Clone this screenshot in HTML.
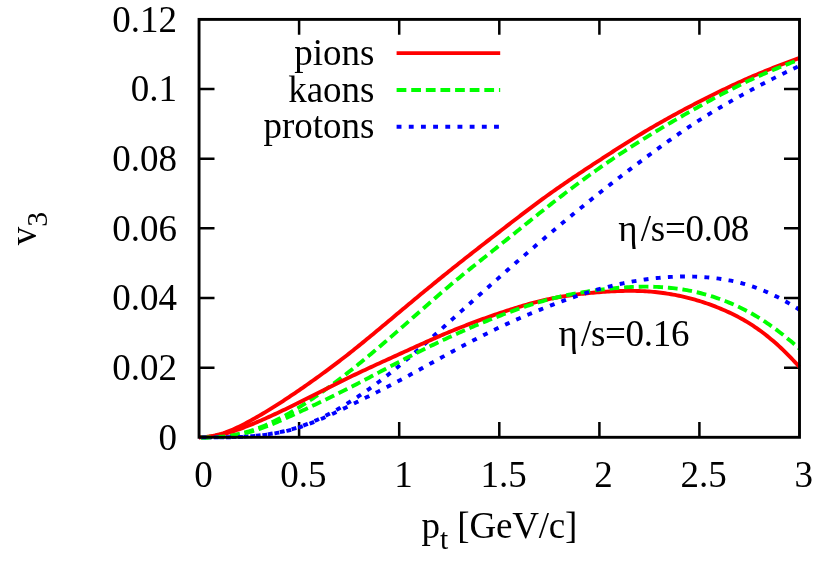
<!DOCTYPE html>
<html>
<head>
<meta charset="utf-8">
<title>v3 vs pt</title>
<style>
html,body{margin:0;padding:0;background:#fff;}
body{width:830px;height:567px;overflow:hidden;}
svg{display:block;will-change:transform;}
text{font-family:"Liberation Serif",serif;fill:#000;}
</style>
</head>
<body>
<svg width="830" height="567" viewBox="0 0 830 567">
<rect x="0" y="0" width="830" height="567" fill="#fff"/>
<!-- TICKS (beneath curves) -->
<g stroke="#000" stroke-width="2.5" fill="none" stroke-linecap="butt">
<path d="M199 367.65H214.5M199 298H214.5M199 228.35H214.5M199 158.7H214.5M199 89.05H214.5"/>
<path d="M799.5 367.65H784M799.5 298H784M799.5 228.35H784M799.5 158.7H784M799.5 89.05H784"/>
<path d="M299.1 437.3V421.9M399.2 437.3V421.9M499.3 437.3V421.9M599.4 437.3V421.9M699.4 437.3V421.9"/>
<path d="M299.1 19.4V34.8M399.2 19.4V34.8M499.3 19.4V34.8M599.4 19.4V34.8M699.4 19.4V34.8"/>
</g>
<!-- CURVES -->
<g id="curves" fill="none" stroke-width="3.9">
<path stroke="#ff0000" stroke-dashoffset="0" d="M199.0 437.21 L201.0 437.18 L203.0 437.10 L205.0 436.96 L207.0 436.76 L209.0 436.51 L211.0 436.21 L213.0 435.85 L215.0 435.44 L217.0 434.97 L219.0 434.46 L221.0 433.89 L223.0 433.27 L225.0 432.60 L227.0 431.88 L229.0 431.11 L231.0 430.30 L233.0 429.45 L235.0 428.56 L237.0 427.64 L239.0 426.68 L241.0 425.69 L243.0 424.68 L245.0 423.64 L247.0 422.58 L249.0 421.50 L251.0 420.41 L253.0 419.29 L255.0 418.17 L257.0 417.03 L259.0 415.87 L261.0 414.70 L263.0 413.52 L265.0 412.32 L267.0 411.11 L269.0 409.89 L271.0 408.65 L273.0 407.41 L275.0 406.15 L277.0 404.88 L279.0 403.60 L281.0 402.31 L283.0 401.01 L285.0 399.70 L287.0 398.38 L289.0 397.05 L291.0 395.71 L293.0 394.36 L295.0 393.01 L297.0 391.65 L299.0 390.28 L301.0 388.90 L303.0 387.52 L305.0 386.13 L307.0 384.74 L309.0 383.33 L311.0 381.92 L313.0 380.51 L315.0 379.08 L317.0 377.65 L319.0 376.21 L321.0 374.76 L323.0 373.30 L325.0 371.84 L327.0 370.36 L329.0 368.88 L331.0 367.39 L333.0 365.90 L335.0 364.39 L337.0 362.88 L339.0 361.35 L341.0 359.82 L343.0 358.28 L345.0 356.73 L347.0 355.17 L349.0 353.60 L351.0 352.02 L353.0 350.43 L355.0 348.83 L357.0 347.23 L359.0 345.62 L361.0 344.00 L363.0 342.37 L365.0 340.74 L367.0 339.10 L369.0 337.45 L371.0 335.80 L373.0 334.15 L375.0 332.49 L377.0 330.83 L379.0 329.16 L381.0 327.50 L383.0 325.83 L385.0 324.15 L387.0 322.48 L389.0 320.80 L391.0 319.13 L393.0 317.45 L395.0 315.77 L397.0 314.10 L399.0 312.42 L401.0 310.75 L403.0 309.08 L405.0 307.41 L407.0 305.74 L409.0 304.07 L411.0 302.41 L413.0 300.74 L415.0 299.08 L417.0 297.42 L419.0 295.77 L421.0 294.12 L423.0 292.47 L425.0 290.82 L427.0 289.17 L429.0 287.53 L431.0 285.89 L433.0 284.26 L435.0 282.63 L437.0 281.00 L439.0 279.37 L441.0 277.75 L443.0 276.13 L445.0 274.52 L447.0 272.91 L449.0 271.30 L451.0 269.70 L453.0 268.10 L455.0 266.51 L457.0 264.92 L459.0 263.33 L461.0 261.75 L463.0 260.17 L465.0 258.59 L467.0 257.02 L469.0 255.45 L471.0 253.88 L473.0 252.32 L475.0 250.75 L477.0 249.19 L479.0 247.63 L481.0 246.07 L483.0 244.52 L485.0 242.96 L487.0 241.41 L489.0 239.85 L491.0 238.30 L493.0 236.75 L495.0 235.20 L497.0 233.65 L499.0 232.10 L501.0 230.55 L503.0 229.01 L505.0 227.46 L507.0 225.91 L509.0 224.37 L511.0 222.82 L513.0 221.28 L515.0 219.74 L517.0 218.21 L519.0 216.68 L521.0 215.15 L523.0 213.63 L525.0 212.11 L527.0 210.59 L529.0 209.08 L531.0 207.58 L533.0 206.08 L535.0 204.59 L537.0 203.10 L539.0 201.63 L541.0 200.16 L543.0 198.69 L545.0 197.24 L547.0 195.79 L549.0 194.35 L551.0 192.93 L553.0 191.51 L555.0 190.09 L557.0 188.69 L559.0 187.30 L561.0 185.91 L563.0 184.53 L565.0 183.16 L567.0 181.79 L569.0 180.43 L571.0 179.08 L573.0 177.73 L575.0 176.39 L577.0 175.05 L579.0 173.71 L581.0 172.39 L583.0 171.06 L585.0 169.74 L587.0 168.42 L589.0 167.11 L591.0 165.80 L593.0 164.49 L595.0 163.18 L597.0 161.88 L599.0 160.58 L601.0 159.28 L603.0 157.98 L605.0 156.68 L607.0 155.38 L609.0 154.09 L611.0 152.80 L613.0 151.51 L615.0 150.23 L617.0 148.95 L619.0 147.67 L621.0 146.40 L623.0 145.13 L625.0 143.86 L627.0 142.61 L629.0 141.35 L631.0 140.10 L633.0 138.86 L635.0 137.63 L637.0 136.40 L639.0 135.17 L641.0 133.96 L643.0 132.75 L645.0 131.54 L647.0 130.35 L649.0 129.16 L651.0 127.99 L653.0 126.82 L655.0 125.65 L657.0 124.50 L659.0 123.35 L661.0 122.22 L663.0 121.08 L665.0 119.96 L667.0 118.84 L669.0 117.73 L671.0 116.63 L673.0 115.53 L675.0 114.44 L677.0 113.36 L679.0 112.28 L681.0 111.20 L683.0 110.14 L685.0 109.08 L687.0 108.02 L689.0 106.97 L691.0 105.93 L693.0 104.89 L695.0 103.85 L697.0 102.82 L699.0 101.79 L701.0 100.77 L703.0 99.75 L705.0 98.74 L707.0 97.73 L709.0 96.73 L711.0 95.73 L713.0 94.74 L715.0 93.75 L717.0 92.77 L719.0 91.79 L721.0 90.82 L723.0 89.85 L725.0 88.89 L727.0 87.94 L729.0 86.99 L731.0 86.05 L733.0 85.12 L735.0 84.19 L737.0 83.27 L739.0 82.35 L741.0 81.44 L743.0 80.54 L745.0 79.65 L747.0 78.76 L749.0 77.88 L751.0 77.01 L753.0 76.14 L755.0 75.29 L757.0 74.44 L759.0 73.60 L761.0 72.76 L763.0 71.93 L765.0 71.11 L767.0 70.30 L769.0 69.49 L771.0 68.69 L773.0 67.89 L775.0 67.10 L777.0 66.32 L779.0 65.55 L781.0 64.78 L783.0 64.01 L785.0 63.26 L787.0 62.51 L789.0 61.76 L791.0 61.02 L793.0 60.29 L795.0 59.56 L797.0 58.84 L799.0 58.12 L799.5 57.94"/>
<path stroke="#00ff00" stroke-dasharray="9.75 4.87" stroke-dashoffset="-2" d="M199.0 437.54 L201.0 437.54 L203.0 437.52 L205.0 437.49 L207.0 437.45 L209.0 437.40 L211.0 437.32 L213.0 437.23 L215.0 437.12 L217.0 436.99 L219.0 436.84 L221.0 436.66 L223.0 436.46 L225.0 436.24 L227.0 435.99 L229.0 435.71 L231.0 435.40 L233.0 435.07 L235.0 434.71 L237.0 434.31 L239.0 433.89 L241.0 433.43 L243.0 432.95 L245.0 432.43 L247.0 431.88 L249.0 431.29 L251.0 430.68 L253.0 430.02 L255.0 429.34 L257.0 428.62 L259.0 427.87 L261.0 427.09 L263.0 426.28 L265.0 425.44 L267.0 424.57 L269.0 423.68 L271.0 422.76 L273.0 421.81 L275.0 420.83 L277.0 419.83 L279.0 418.81 L281.0 417.76 L283.0 416.68 L285.0 415.59 L287.0 414.47 L289.0 413.34 L291.0 412.18 L293.0 411.00 L295.0 409.81 L297.0 408.59 L299.0 407.36 L301.0 406.11 L303.0 404.85 L305.0 403.57 L307.0 402.27 L309.0 400.96 L311.0 399.63 L313.0 398.28 L315.0 396.93 L317.0 395.55 L319.0 394.17 L321.0 392.76 L323.0 391.35 L325.0 389.92 L327.0 388.48 L329.0 387.02 L331.0 385.55 L333.0 384.07 L335.0 382.58 L337.0 381.08 L339.0 379.56 L341.0 378.03 L343.0 376.49 L345.0 374.94 L347.0 373.38 L349.0 371.81 L351.0 370.23 L353.0 368.64 L355.0 367.04 L357.0 365.43 L359.0 363.81 L361.0 362.18 L363.0 360.55 L365.0 358.90 L367.0 357.25 L369.0 355.59 L371.0 353.92 L373.0 352.24 L375.0 350.56 L377.0 348.87 L379.0 347.17 L381.0 345.47 L383.0 343.76 L385.0 342.04 L387.0 340.32 L389.0 338.59 L391.0 336.86 L393.0 335.12 L395.0 333.38 L397.0 331.63 L399.0 329.88 L401.0 328.13 L403.0 326.37 L405.0 324.61 L407.0 322.84 L409.0 321.08 L411.0 319.31 L413.0 317.54 L415.0 315.77 L417.0 314.00 L419.0 312.24 L421.0 310.47 L423.0 308.70 L425.0 306.94 L427.0 305.18 L429.0 303.43 L431.0 301.68 L433.0 299.93 L435.0 298.19 L437.0 296.46 L439.0 294.73 L441.0 293.00 L443.0 291.29 L445.0 289.58 L447.0 287.89 L449.0 286.20 L451.0 284.52 L453.0 282.85 L455.0 281.18 L457.0 279.53 L459.0 277.88 L461.0 276.25 L463.0 274.61 L465.0 272.99 L467.0 271.37 L469.0 269.75 L471.0 268.14 L473.0 266.53 L475.0 264.93 L477.0 263.33 L479.0 261.73 L481.0 260.14 L483.0 258.54 L485.0 256.95 L487.0 255.36 L489.0 253.76 L491.0 252.17 L493.0 250.58 L495.0 248.98 L497.0 247.38 L499.0 245.78 L501.0 244.18 L503.0 242.58 L505.0 240.97 L507.0 239.36 L509.0 237.75 L511.0 236.13 L513.0 234.52 L515.0 232.91 L517.0 231.29 L519.0 229.68 L521.0 228.06 L523.0 226.45 L525.0 224.84 L527.0 223.22 L529.0 221.61 L531.0 220.01 L533.0 218.40 L535.0 216.80 L537.0 215.20 L539.0 213.60 L541.0 212.01 L543.0 210.42 L545.0 208.84 L547.0 207.26 L549.0 205.69 L551.0 204.12 L553.0 202.55 L555.0 201.00 L557.0 199.45 L559.0 197.90 L561.0 196.36 L563.0 194.83 L565.0 193.30 L567.0 191.78 L569.0 190.26 L571.0 188.75 L573.0 187.25 L575.0 185.75 L577.0 184.27 L579.0 182.78 L581.0 181.31 L583.0 179.84 L585.0 178.38 L587.0 176.93 L589.0 175.48 L591.0 174.05 L593.0 172.61 L595.0 171.19 L597.0 169.78 L599.0 168.37 L601.0 166.97 L603.0 165.58 L605.0 164.20 L607.0 162.82 L609.0 161.46 L611.0 160.10 L613.0 158.74 L615.0 157.40 L617.0 156.06 L619.0 154.73 L621.0 153.41 L623.0 152.09 L625.0 150.79 L627.0 149.48 L629.0 148.19 L631.0 146.90 L633.0 145.62 L635.0 144.35 L637.0 143.08 L639.0 141.82 L641.0 140.57 L643.0 139.32 L645.0 138.08 L647.0 136.84 L649.0 135.61 L651.0 134.39 L653.0 133.17 L655.0 131.96 L657.0 130.75 L659.0 129.55 L661.0 128.36 L663.0 127.17 L665.0 125.98 L667.0 124.80 L669.0 123.63 L671.0 122.46 L673.0 121.30 L675.0 120.14 L677.0 118.98 L679.0 117.83 L681.0 116.69 L683.0 115.55 L685.0 114.41 L687.0 113.28 L689.0 112.15 L691.0 111.02 L693.0 109.90 L695.0 108.78 L697.0 107.67 L699.0 106.56 L701.0 105.45 L703.0 104.34 L705.0 103.24 L707.0 102.15 L709.0 101.06 L711.0 99.97 L713.0 98.89 L715.0 97.81 L717.0 96.74 L719.0 95.67 L721.0 94.62 L723.0 93.56 L725.0 92.52 L727.0 91.48 L729.0 90.44 L731.0 89.42 L733.0 88.40 L735.0 87.39 L737.0 86.39 L739.0 85.40 L741.0 84.42 L743.0 83.45 L745.0 82.48 L747.0 81.53 L749.0 80.58 L751.0 79.65 L753.0 78.72 L755.0 77.81 L757.0 76.90 L759.0 76.01 L761.0 75.12 L763.0 74.24 L765.0 73.37 L767.0 72.51 L769.0 71.66 L771.0 70.82 L773.0 69.98 L775.0 69.16 L777.0 68.34 L779.0 67.52 L781.0 66.72 L783.0 65.92 L785.0 65.13 L787.0 64.34 L789.0 63.56 L791.0 62.79 L793.0 62.02 L795.0 61.26 L797.0 60.50 L799.0 59.75 L799.5 59.56"/>
<path stroke="#0000ff" stroke-dasharray="4.87 7.31" stroke-dashoffset="4.1" d="M199.0 437.40 L201.0 437.40 L203.0 437.40 L205.0 437.40 L207.0 437.40 L209.0 437.40 L211.0 437.40 L213.0 437.39 L215.0 437.38 L217.0 437.37 L219.0 437.35 L221.0 437.33 L223.0 437.30 L225.0 437.27 L227.0 437.23 L229.0 437.19 L231.0 437.14 L233.0 437.08 L235.0 437.01 L237.0 436.94 L239.0 436.85 L241.0 436.76 L243.0 436.65 L245.0 436.54 L247.0 436.41 L249.0 436.27 L251.0 436.12 L253.0 435.96 L255.0 435.78 L257.0 435.59 L259.0 435.39 L261.0 435.16 L263.0 434.93 L265.0 434.67 L267.0 434.40 L269.0 434.11 L271.0 433.80 L273.0 433.47 L275.0 433.12 L277.0 432.75 L279.0 432.35 L281.0 431.94 L283.0 431.50 L285.0 431.03 L287.0 430.54 L289.0 430.03 L291.0 429.49 L293.0 428.92 L295.0 428.33 L297.0 427.71 L299.0 427.06 L301.0 426.37 L303.0 425.67 L305.0 424.93 L307.0 424.16 L309.0 423.37 L311.0 422.54 L313.0 421.70 L315.0 420.82 L317.0 419.92 L319.0 419.00 L321.0 418.05 L323.0 417.07 L325.0 416.08 L327.0 415.05 L329.0 414.01 L331.0 412.94 L333.0 411.86 L335.0 410.75 L337.0 409.62 L339.0 408.47 L341.0 407.30 L343.0 406.11 L345.0 404.90 L347.0 403.67 L349.0 402.43 L351.0 401.17 L353.0 399.89 L355.0 398.59 L357.0 397.28 L359.0 395.95 L361.0 394.60 L363.0 393.24 L365.0 391.86 L367.0 390.46 L369.0 389.05 L371.0 387.62 L373.0 386.18 L375.0 384.72 L377.0 383.24 L379.0 381.75 L381.0 380.24 L383.0 378.72 L385.0 377.19 L387.0 375.64 L389.0 374.07 L391.0 372.49 L393.0 370.90 L395.0 369.29 L397.0 367.67 L399.0 366.03 L401.0 364.38 L403.0 362.72 L405.0 361.05 L407.0 359.36 L409.0 357.66 L411.0 355.95 L413.0 354.23 L415.0 352.50 L417.0 350.76 L419.0 349.02 L421.0 347.26 L423.0 345.50 L425.0 343.73 L427.0 341.96 L429.0 340.18 L431.0 338.39 L433.0 336.60 L435.0 334.81 L437.0 333.01 L439.0 331.22 L441.0 329.42 L443.0 327.61 L445.0 325.81 L447.0 324.01 L449.0 322.21 L451.0 320.41 L453.0 318.61 L455.0 316.81 L457.0 315.01 L459.0 313.21 L461.0 311.42 L463.0 309.62 L465.0 307.83 L467.0 306.04 L469.0 304.25 L471.0 302.46 L473.0 300.67 L475.0 298.89 L477.0 297.10 L479.0 295.32 L481.0 293.54 L483.0 291.76 L485.0 289.98 L487.0 288.20 L489.0 286.43 L491.0 284.66 L493.0 282.89 L495.0 281.12 L497.0 279.35 L499.0 277.59 L501.0 275.83 L503.0 274.06 L505.0 272.31 L507.0 270.55 L509.0 268.80 L511.0 267.04 L513.0 265.30 L515.0 263.55 L517.0 261.81 L519.0 260.06 L521.0 258.33 L523.0 256.59 L525.0 254.86 L527.0 253.13 L529.0 251.40 L531.0 249.68 L533.0 247.95 L535.0 246.24 L537.0 244.52 L539.0 242.81 L541.0 241.10 L543.0 239.40 L545.0 237.70 L547.0 236.00 L549.0 234.31 L551.0 232.62 L553.0 230.94 L555.0 229.25 L557.0 227.58 L559.0 225.90 L561.0 224.23 L563.0 222.57 L565.0 220.91 L567.0 219.25 L569.0 217.60 L571.0 215.95 L573.0 214.30 L575.0 212.66 L577.0 211.03 L579.0 209.39 L581.0 207.77 L583.0 206.14 L585.0 204.53 L587.0 202.91 L589.0 201.30 L591.0 199.70 L593.0 198.10 L595.0 196.50 L597.0 194.91 L599.0 193.33 L601.0 191.75 L603.0 190.17 L605.0 188.60 L607.0 187.03 L609.0 185.47 L611.0 183.91 L613.0 182.36 L615.0 180.81 L617.0 179.27 L619.0 177.73 L621.0 176.20 L623.0 174.67 L625.0 173.14 L627.0 171.62 L629.0 170.11 L631.0 168.60 L633.0 167.09 L635.0 165.58 L637.0 164.09 L639.0 162.59 L641.0 161.10 L643.0 159.61 L645.0 158.13 L647.0 156.65 L649.0 155.18 L651.0 153.71 L653.0 152.25 L655.0 150.79 L657.0 149.33 L659.0 147.88 L661.0 146.43 L663.0 144.99 L665.0 143.56 L667.0 142.13 L669.0 140.71 L671.0 139.30 L673.0 137.90 L675.0 136.50 L677.0 135.11 L679.0 133.72 L681.0 132.35 L683.0 130.98 L685.0 129.63 L687.0 128.28 L689.0 126.94 L691.0 125.62 L693.0 124.30 L695.0 122.99 L697.0 121.69 L699.0 120.41 L701.0 119.13 L703.0 117.87 L705.0 116.62 L707.0 115.37 L709.0 114.14 L711.0 112.92 L713.0 111.71 L715.0 110.50 L717.0 109.31 L719.0 108.12 L721.0 106.95 L723.0 105.78 L725.0 104.62 L727.0 103.46 L729.0 102.32 L731.0 101.18 L733.0 100.05 L735.0 98.93 L737.0 97.81 L739.0 96.70 L741.0 95.59 L743.0 94.49 L745.0 93.40 L747.0 92.31 L749.0 91.22 L751.0 90.14 L753.0 89.07 L755.0 88.00 L757.0 86.93 L759.0 85.87 L761.0 84.82 L763.0 83.77 L765.0 82.73 L767.0 81.70 L769.0 80.67 L771.0 79.64 L773.0 78.63 L775.0 77.62 L777.0 76.62 L779.0 75.63 L781.0 74.64 L783.0 73.66 L785.0 72.69 L787.0 71.73 L789.0 70.78 L791.0 69.84 L793.0 68.90 L795.0 67.97 L797.0 67.06 L799.0 66.15 L799.5 65.93"/>
<path stroke="#ff0000" stroke-dashoffset="0" d="M199.0 437.18 L201.0 437.15 L203.0 437.09 L205.0 436.98 L207.0 436.83 L209.0 436.64 L211.0 436.40 L213.0 436.13 L215.0 435.82 L217.0 435.47 L219.0 435.07 L221.0 434.65 L223.0 434.18 L225.0 433.68 L227.0 433.14 L229.0 432.57 L231.0 431.97 L233.0 431.34 L235.0 430.69 L237.0 430.00 L239.0 429.30 L241.0 428.57 L243.0 427.82 L245.0 427.05 L247.0 426.27 L249.0 425.47 L251.0 424.66 L253.0 423.84 L255.0 423.01 L257.0 422.17 L259.0 421.31 L261.0 420.45 L263.0 419.57 L265.0 418.69 L267.0 417.79 L269.0 416.89 L271.0 415.98 L273.0 415.06 L275.0 414.13 L277.0 413.19 L279.0 412.25 L281.0 411.30 L283.0 410.35 L285.0 409.38 L287.0 408.42 L289.0 407.44 L291.0 406.47 L293.0 405.48 L295.0 404.50 L297.0 403.51 L299.0 402.51 L301.0 401.51 L303.0 400.51 L305.0 399.51 L307.0 398.51 L309.0 397.50 L311.0 396.49 L313.0 395.48 L315.0 394.47 L317.0 393.46 L319.0 392.45 L321.0 391.44 L323.0 390.43 L325.0 389.43 L327.0 388.42 L329.0 387.41 L331.0 386.41 L333.0 385.41 L335.0 384.41 L337.0 383.41 L339.0 382.42 L341.0 381.43 L343.0 380.44 L345.0 379.46 L347.0 378.48 L349.0 377.51 L351.0 376.54 L353.0 375.58 L355.0 374.62 L357.0 373.67 L359.0 372.72 L361.0 371.78 L363.0 370.84 L365.0 369.90 L367.0 368.97 L369.0 368.04 L371.0 367.11 L373.0 366.19 L375.0 365.26 L377.0 364.34 L379.0 363.42 L381.0 362.51 L383.0 361.59 L385.0 360.68 L387.0 359.77 L389.0 358.86 L391.0 357.95 L393.0 357.03 L395.0 356.12 L397.0 355.21 L399.0 354.30 L401.0 353.39 L403.0 352.48 L405.0 351.57 L407.0 350.66 L409.0 349.75 L411.0 348.84 L413.0 347.93 L415.0 347.02 L417.0 346.12 L419.0 345.22 L421.0 344.32 L423.0 343.42 L425.0 342.52 L427.0 341.63 L429.0 340.74 L431.0 339.86 L433.0 338.98 L435.0 338.11 L437.0 337.24 L439.0 336.37 L441.0 335.51 L443.0 334.66 L445.0 333.81 L447.0 332.97 L449.0 332.13 L451.0 331.30 L453.0 330.48 L455.0 329.67 L457.0 328.86 L459.0 328.06 L461.0 327.26 L463.0 326.48 L465.0 325.69 L467.0 324.92 L469.0 324.15 L471.0 323.39 L473.0 322.63 L475.0 321.88 L477.0 321.14 L479.0 320.40 L481.0 319.67 L483.0 318.94 L485.0 318.22 L487.0 317.51 L489.0 316.80 L491.0 316.09 L493.0 315.40 L495.0 314.70 L497.0 314.02 L499.0 313.34 L501.0 312.66 L503.0 311.99 L505.0 311.33 L507.0 310.67 L509.0 310.02 L511.0 309.38 L513.0 308.75 L515.0 308.12 L517.0 307.50 L519.0 306.89 L521.0 306.29 L523.0 305.70 L525.0 305.12 L527.0 304.55 L529.0 303.99 L531.0 303.44 L533.0 302.90 L535.0 302.38 L537.0 301.87 L539.0 301.36 L541.0 300.88 L543.0 300.40 L545.0 299.94 L547.0 299.49 L549.0 299.06 L551.0 298.64 L553.0 298.24 L555.0 297.85 L557.0 297.48 L559.0 297.12 L561.0 296.77 L563.0 296.43 L565.0 296.11 L567.0 295.80 L569.0 295.50 L571.0 295.21 L573.0 294.93 L575.0 294.67 L577.0 294.41 L579.0 294.17 L581.0 293.93 L583.0 293.71 L585.0 293.49 L587.0 293.29 L589.0 293.09 L591.0 292.90 L593.0 292.72 L595.0 292.54 L597.0 292.38 L599.0 292.22 L601.0 292.06 L603.0 291.92 L605.0 291.78 L607.0 291.65 L609.0 291.53 L611.0 291.41 L613.0 291.31 L615.0 291.22 L617.0 291.13 L619.0 291.06 L621.0 291.00 L623.0 290.95 L625.0 290.91 L627.0 290.88 L629.0 290.87 L631.0 290.87 L633.0 290.88 L635.0 290.91 L637.0 290.95 L639.0 291.01 L641.0 291.08 L643.0 291.16 L645.0 291.27 L647.0 291.39 L649.0 291.53 L651.0 291.68 L653.0 291.85 L655.0 292.04 L657.0 292.25 L659.0 292.48 L661.0 292.72 L663.0 292.98 L665.0 293.26 L667.0 293.56 L669.0 293.88 L671.0 294.21 L673.0 294.57 L675.0 294.94 L677.0 295.33 L679.0 295.74 L681.0 296.17 L683.0 296.61 L685.0 297.08 L687.0 297.57 L689.0 298.07 L691.0 298.60 L693.0 299.14 L695.0 299.70 L697.0 300.29 L699.0 300.89 L701.0 301.51 L703.0 302.16 L705.0 302.82 L707.0 303.50 L709.0 304.21 L711.0 304.93 L713.0 305.68 L715.0 306.44 L717.0 307.23 L719.0 308.03 L721.0 308.86 L723.0 309.71 L725.0 310.58 L727.0 311.48 L729.0 312.39 L731.0 313.33 L733.0 314.30 L735.0 315.29 L737.0 316.32 L739.0 317.37 L741.0 318.45 L743.0 319.57 L745.0 320.72 L747.0 321.91 L749.0 323.13 L751.0 324.39 L753.0 325.69 L755.0 327.03 L757.0 328.40 L759.0 329.82 L761.0 331.27 L763.0 332.76 L765.0 334.30 L767.0 335.87 L769.0 337.48 L771.0 339.13 L773.0 340.82 L775.0 342.55 L777.0 344.32 L779.0 346.14 L781.0 347.99 L783.0 349.88 L785.0 351.82 L787.0 353.80 L789.0 355.81 L791.0 357.88 L793.0 359.98 L795.0 362.12 L797.0 364.31 L799.0 366.54 L799.5 367.11"/>
<path stroke="#00ff00" stroke-dasharray="9.75 4.87" stroke-dashoffset="-2" d="M199.0 437.54 L201.0 437.54 L203.0 437.52 L205.0 437.50 L207.0 437.47 L209.0 437.42 L211.0 437.36 L213.0 437.29 L215.0 437.20 L217.0 437.09 L219.0 436.96 L221.0 436.81 L223.0 436.64 L225.0 436.45 L227.0 436.23 L229.0 435.99 L231.0 435.73 L233.0 435.44 L235.0 435.12 L237.0 434.78 L239.0 434.41 L241.0 434.01 L243.0 433.58 L245.0 433.12 L247.0 432.64 L249.0 432.12 L251.0 431.57 L253.0 431.00 L255.0 430.39 L257.0 429.76 L259.0 429.10 L261.0 428.41 L263.0 427.70 L265.0 426.97 L267.0 426.22 L269.0 425.44 L271.0 424.65 L273.0 423.84 L275.0 423.01 L277.0 422.17 L279.0 421.31 L281.0 420.44 L283.0 419.56 L285.0 418.66 L287.0 417.76 L289.0 416.85 L291.0 415.93 L293.0 415.01 L295.0 414.08 L297.0 413.14 L299.0 412.21 L301.0 411.27 L303.0 410.33 L305.0 409.39 L307.0 408.45 L309.0 407.51 L311.0 406.56 L313.0 405.61 L315.0 404.67 L317.0 403.71 L319.0 402.76 L321.0 401.80 L323.0 400.84 L325.0 399.88 L327.0 398.91 L329.0 397.94 L331.0 396.96 L333.0 395.99 L335.0 395.00 L337.0 394.02 L339.0 393.03 L341.0 392.03 L343.0 391.04 L345.0 390.03 L347.0 389.02 L349.0 388.01 L351.0 386.99 L353.0 385.97 L355.0 384.94 L357.0 383.91 L359.0 382.87 L361.0 381.83 L363.0 380.79 L365.0 379.74 L367.0 378.70 L369.0 377.65 L371.0 376.60 L373.0 375.54 L375.0 374.49 L377.0 373.44 L379.0 372.38 L381.0 371.33 L383.0 370.27 L385.0 369.22 L387.0 368.17 L389.0 367.12 L391.0 366.07 L393.0 365.02 L395.0 363.98 L397.0 362.94 L399.0 361.90 L401.0 360.87 L403.0 359.84 L405.0 358.81 L407.0 357.79 L409.0 356.77 L411.0 355.75 L413.0 354.74 L415.0 353.73 L417.0 352.73 L419.0 351.73 L421.0 350.74 L423.0 349.75 L425.0 348.76 L427.0 347.78 L429.0 346.81 L431.0 345.83 L433.0 344.87 L435.0 343.91 L437.0 342.95 L439.0 342.00 L441.0 341.05 L443.0 340.11 L445.0 339.18 L447.0 338.25 L449.0 337.32 L451.0 336.41 L453.0 335.49 L455.0 334.59 L457.0 333.68 L459.0 332.79 L461.0 331.90 L463.0 331.01 L465.0 330.13 L467.0 329.26 L469.0 328.39 L471.0 327.53 L473.0 326.68 L475.0 325.83 L477.0 324.98 L479.0 324.15 L481.0 323.31 L483.0 322.49 L485.0 321.67 L487.0 320.85 L489.0 320.04 L491.0 319.24 L493.0 318.44 L495.0 317.65 L497.0 316.87 L499.0 316.09 L501.0 315.32 L503.0 314.55 L505.0 313.79 L507.0 313.04 L509.0 312.30 L511.0 311.56 L513.0 310.83 L515.0 310.11 L517.0 309.40 L519.0 308.69 L521.0 308.00 L523.0 307.31 L525.0 306.64 L527.0 305.97 L529.0 305.32 L531.0 304.67 L533.0 304.04 L535.0 303.42 L537.0 302.81 L539.0 302.21 L541.0 301.62 L543.0 301.05 L545.0 300.49 L547.0 299.94 L549.0 299.40 L551.0 298.88 L553.0 298.38 L555.0 297.88 L557.0 297.40 L559.0 296.93 L561.0 296.48 L563.0 296.03 L565.0 295.60 L567.0 295.19 L569.0 294.78 L571.0 294.38 L573.0 294.00 L575.0 293.62 L577.0 293.26 L579.0 292.91 L581.0 292.57 L583.0 292.23 L585.0 291.91 L587.0 291.60 L589.0 291.30 L591.0 291.00 L593.0 290.72 L595.0 290.44 L597.0 290.17 L599.0 289.91 L601.0 289.66 L603.0 289.41 L605.0 289.18 L607.0 288.95 L609.0 288.73 L611.0 288.53 L613.0 288.33 L615.0 288.14 L617.0 287.96 L619.0 287.79 L621.0 287.63 L623.0 287.48 L625.0 287.35 L627.0 287.22 L629.0 287.11 L631.0 287.01 L633.0 286.92 L635.0 286.85 L637.0 286.78 L639.0 286.73 L641.0 286.69 L643.0 286.67 L645.0 286.66 L647.0 286.67 L649.0 286.69 L651.0 286.72 L653.0 286.77 L655.0 286.83 L657.0 286.91 L659.0 287.01 L661.0 287.12 L663.0 287.25 L665.0 287.39 L667.0 287.56 L669.0 287.74 L671.0 287.94 L673.0 288.15 L675.0 288.39 L677.0 288.64 L679.0 288.91 L681.0 289.20 L683.0 289.51 L685.0 289.84 L687.0 290.20 L689.0 290.57 L691.0 290.96 L693.0 291.37 L695.0 291.81 L697.0 292.27 L699.0 292.74 L701.0 293.25 L703.0 293.77 L705.0 294.32 L707.0 294.88 L709.0 295.47 L711.0 296.09 L713.0 296.72 L715.0 297.38 L717.0 298.06 L719.0 298.75 L721.0 299.48 L723.0 300.22 L725.0 300.98 L727.0 301.77 L729.0 302.58 L731.0 303.41 L733.0 304.27 L735.0 305.15 L737.0 306.05 L739.0 306.98 L741.0 307.94 L743.0 308.93 L745.0 309.94 L747.0 310.99 L749.0 312.06 L751.0 313.17 L753.0 314.30 L755.0 315.47 L757.0 316.66 L759.0 317.88 L761.0 319.14 L763.0 320.42 L765.0 321.73 L767.0 323.07 L769.0 324.44 L771.0 325.84 L773.0 327.26 L775.0 328.71 L777.0 330.19 L779.0 331.70 L781.0 333.23 L783.0 334.80 L785.0 336.39 L787.0 338.02 L789.0 339.67 L791.0 341.35 L793.0 343.07 L795.0 344.81 L797.0 346.59 L799.0 348.39 L799.5 348.85"/>
<path stroke="#0000ff" stroke-dasharray="4.87 7.31" stroke-dashoffset="-2.6" d="M199.0 437.40 L201.0 437.40 L203.0 437.40 L205.0 437.41 L207.0 437.41 L209.0 437.41 L211.0 437.41 L213.0 437.41 L215.0 437.40 L217.0 437.40 L219.0 437.39 L221.0 437.38 L223.0 437.36 L225.0 437.33 L227.0 437.31 L229.0 437.27 L231.0 437.23 L233.0 437.18 L235.0 437.13 L237.0 437.06 L239.0 436.99 L241.0 436.90 L243.0 436.80 L245.0 436.70 L247.0 436.58 L249.0 436.44 L251.0 436.30 L253.0 436.14 L255.0 435.96 L257.0 435.77 L259.0 435.57 L261.0 435.35 L263.0 435.11 L265.0 434.86 L267.0 434.59 L269.0 434.30 L271.0 433.99 L273.0 433.66 L275.0 433.31 L277.0 432.94 L279.0 432.56 L281.0 432.15 L283.0 431.72 L285.0 431.26 L287.0 430.79 L289.0 430.29 L291.0 429.76 L293.0 429.22 L295.0 428.65 L297.0 428.05 L299.0 427.43 L301.0 426.78 L303.0 426.10 L305.0 425.40 L307.0 424.68 L309.0 423.94 L311.0 423.17 L313.0 422.39 L315.0 421.58 L317.0 420.76 L319.0 419.92 L321.0 419.06 L323.0 418.19 L325.0 417.31 L327.0 416.41 L329.0 415.50 L331.0 414.58 L333.0 413.65 L335.0 412.71 L337.0 411.76 L339.0 410.80 L341.0 409.84 L343.0 408.88 L345.0 407.91 L347.0 406.93 L349.0 405.96 L351.0 404.98 L353.0 404.01 L355.0 403.03 L357.0 402.05 L359.0 401.07 L361.0 400.09 L363.0 399.10 L365.0 398.11 L367.0 397.12 L369.0 396.13 L371.0 395.14 L373.0 394.14 L375.0 393.14 L377.0 392.13 L379.0 391.12 L381.0 390.11 L383.0 389.09 L385.0 388.07 L387.0 387.04 L389.0 386.01 L391.0 384.98 L393.0 383.94 L395.0 382.89 L397.0 381.84 L399.0 380.78 L401.0 379.72 L403.0 378.65 L405.0 377.57 L407.0 376.49 L409.0 375.41 L411.0 374.32 L413.0 373.23 L415.0 372.14 L417.0 371.04 L419.0 369.94 L421.0 368.83 L423.0 367.73 L425.0 366.62 L427.0 365.52 L429.0 364.41 L431.0 363.30 L433.0 362.19 L435.0 361.08 L437.0 359.98 L439.0 358.87 L441.0 357.77 L443.0 356.66 L445.0 355.56 L447.0 354.47 L449.0 353.37 L451.0 352.28 L453.0 351.19 L455.0 350.11 L457.0 349.03 L459.0 347.95 L461.0 346.88 L463.0 345.82 L465.0 344.75 L467.0 343.70 L469.0 342.64 L471.0 341.60 L473.0 340.56 L475.0 339.52 L477.0 338.49 L479.0 337.47 L481.0 336.45 L483.0 335.44 L485.0 334.44 L487.0 333.44 L489.0 332.45 L491.0 331.46 L493.0 330.49 L495.0 329.52 L497.0 328.56 L499.0 327.61 L501.0 326.66 L503.0 325.73 L505.0 324.80 L507.0 323.88 L509.0 322.96 L511.0 322.06 L513.0 321.16 L515.0 320.27 L517.0 319.39 L519.0 318.51 L521.0 317.64 L523.0 316.78 L525.0 315.92 L527.0 315.08 L529.0 314.23 L531.0 313.40 L533.0 312.57 L535.0 311.75 L537.0 310.94 L539.0 310.13 L541.0 309.32 L543.0 308.53 L545.0 307.74 L547.0 306.95 L549.0 306.17 L551.0 305.40 L553.0 304.63 L555.0 303.87 L557.0 303.12 L559.0 302.37 L561.0 301.63 L563.0 300.89 L565.0 300.17 L567.0 299.45 L569.0 298.74 L571.0 298.03 L573.0 297.34 L575.0 296.65 L577.0 295.98 L579.0 295.31 L581.0 294.65 L583.0 294.00 L585.0 293.36 L587.0 292.73 L589.0 292.11 L591.0 291.50 L593.0 290.91 L595.0 290.32 L597.0 289.74 L599.0 289.18 L601.0 288.63 L603.0 288.09 L605.0 287.56 L607.0 287.04 L609.0 286.53 L611.0 286.04 L613.0 285.56 L615.0 285.09 L617.0 284.63 L619.0 284.19 L621.0 283.75 L623.0 283.33 L625.0 282.92 L627.0 282.52 L629.0 282.14 L631.0 281.77 L633.0 281.40 L635.0 281.06 L637.0 280.72 L639.0 280.39 L641.0 280.08 L643.0 279.78 L645.0 279.50 L647.0 279.22 L649.0 278.96 L651.0 278.71 L653.0 278.47 L655.0 278.25 L657.0 278.03 L659.0 277.84 L661.0 277.65 L663.0 277.48 L665.0 277.32 L667.0 277.17 L669.0 277.04 L671.0 276.92 L673.0 276.82 L675.0 276.73 L677.0 276.66 L679.0 276.60 L681.0 276.55 L683.0 276.52 L685.0 276.50 L687.0 276.50 L689.0 276.51 L691.0 276.54 L693.0 276.58 L695.0 276.64 L697.0 276.72 L699.0 276.81 L701.0 276.92 L703.0 277.04 L705.0 277.18 L707.0 277.34 L709.0 277.51 L711.0 277.70 L713.0 277.91 L715.0 278.14 L717.0 278.39 L719.0 278.66 L721.0 278.95 L723.0 279.25 L725.0 279.58 L727.0 279.93 L729.0 280.30 L731.0 280.69 L733.0 281.11 L735.0 281.55 L737.0 282.01 L739.0 282.50 L741.0 283.01 L743.0 283.55 L745.0 284.12 L747.0 284.71 L749.0 285.33 L751.0 285.98 L753.0 286.66 L755.0 287.36 L757.0 288.10 L759.0 288.85 L761.0 289.64 L763.0 290.45 L765.0 291.29 L767.0 292.16 L769.0 293.05 L771.0 293.96 L773.0 294.91 L775.0 295.87 L777.0 296.86 L779.0 297.88 L781.0 298.92 L783.0 299.99 L785.0 301.09 L787.0 302.21 L789.0 303.35 L791.0 304.53 L793.0 305.73 L795.0 306.96 L797.0 308.22 L799.0 309.50 L799.5 309.83"/>
<path stroke="#ff0000" d="M396.6 53.1H500.2"/>
<path stroke="#00ff00" stroke-dasharray="9.75 4.87" d="M396.6 90.0H500.2"/>
<path stroke="#0000ff" stroke-dasharray="4.87 7.31" d="M396.6 126.7H500.2"/>
</g>
<!-- FRAME (on top of curves) -->
<rect x="199.05" y="19.4" width="600.45" height="417.9" stroke="#000" stroke-width="2.9" fill="none"/>
<!-- Y LABELS -->
<g font-size="37" text-anchor="end">
<text x="177" y="31.7">0.12</text>
<text x="177" y="101.35">0.1</text>
<text x="177" y="171">0.08</text>
<text x="177" y="240.65">0.06</text>
<text x="177" y="310.3">0.04</text>
<text x="177" y="379.95">0.02</text>
<text x="177" y="449.6">0</text>
</g>
<!-- X LABELS -->
<g font-size="37" text-anchor="middle">
<text x="203.4" y="486.8">0</text>
<text x="303.3" y="486.8">0.5</text>
<text x="403.4" y="486.8">1</text>
<text x="503.5" y="486.8">1.5</text>
<text x="603.6" y="486.8">2</text>
<text x="703.6" y="486.8">2.5</text>
<text x="803.7" y="486.8">3</text>
</g>
<!-- LEGEND -->
<g font-size="37" text-anchor="end">
<text x="374.5" y="65">pions</text>
<text x="374.5" y="101.7">kaons</text>
<text x="374.5" y="138.3">protons</text>
</g>
<!-- AXIS TITLES -->
<text font-size="37" x="421.5" y="537.9">p<tspan font-size="29.6" dy="11">t</tspan><tspan dy="-11" letter-spacing="-0.2"> [GeV/c]</tspan></text>
<text font-size="37" transform="translate(35.9,245.2) rotate(-90)">v<tspan font-size="29.6" dy="11">3</tspan></text>
<!-- ANNOTATIONS -->
<text font-size="37" x="618.3" y="241">η<tspan dx="3.2" letter-spacing="-0.3">/s=0.08</tspan></text>
<text font-size="37" x="558.4" y="346">η<tspan dx="3.2" letter-spacing="-0.3">/s=0.16</tspan></text>
</svg>
</body>
</html>
